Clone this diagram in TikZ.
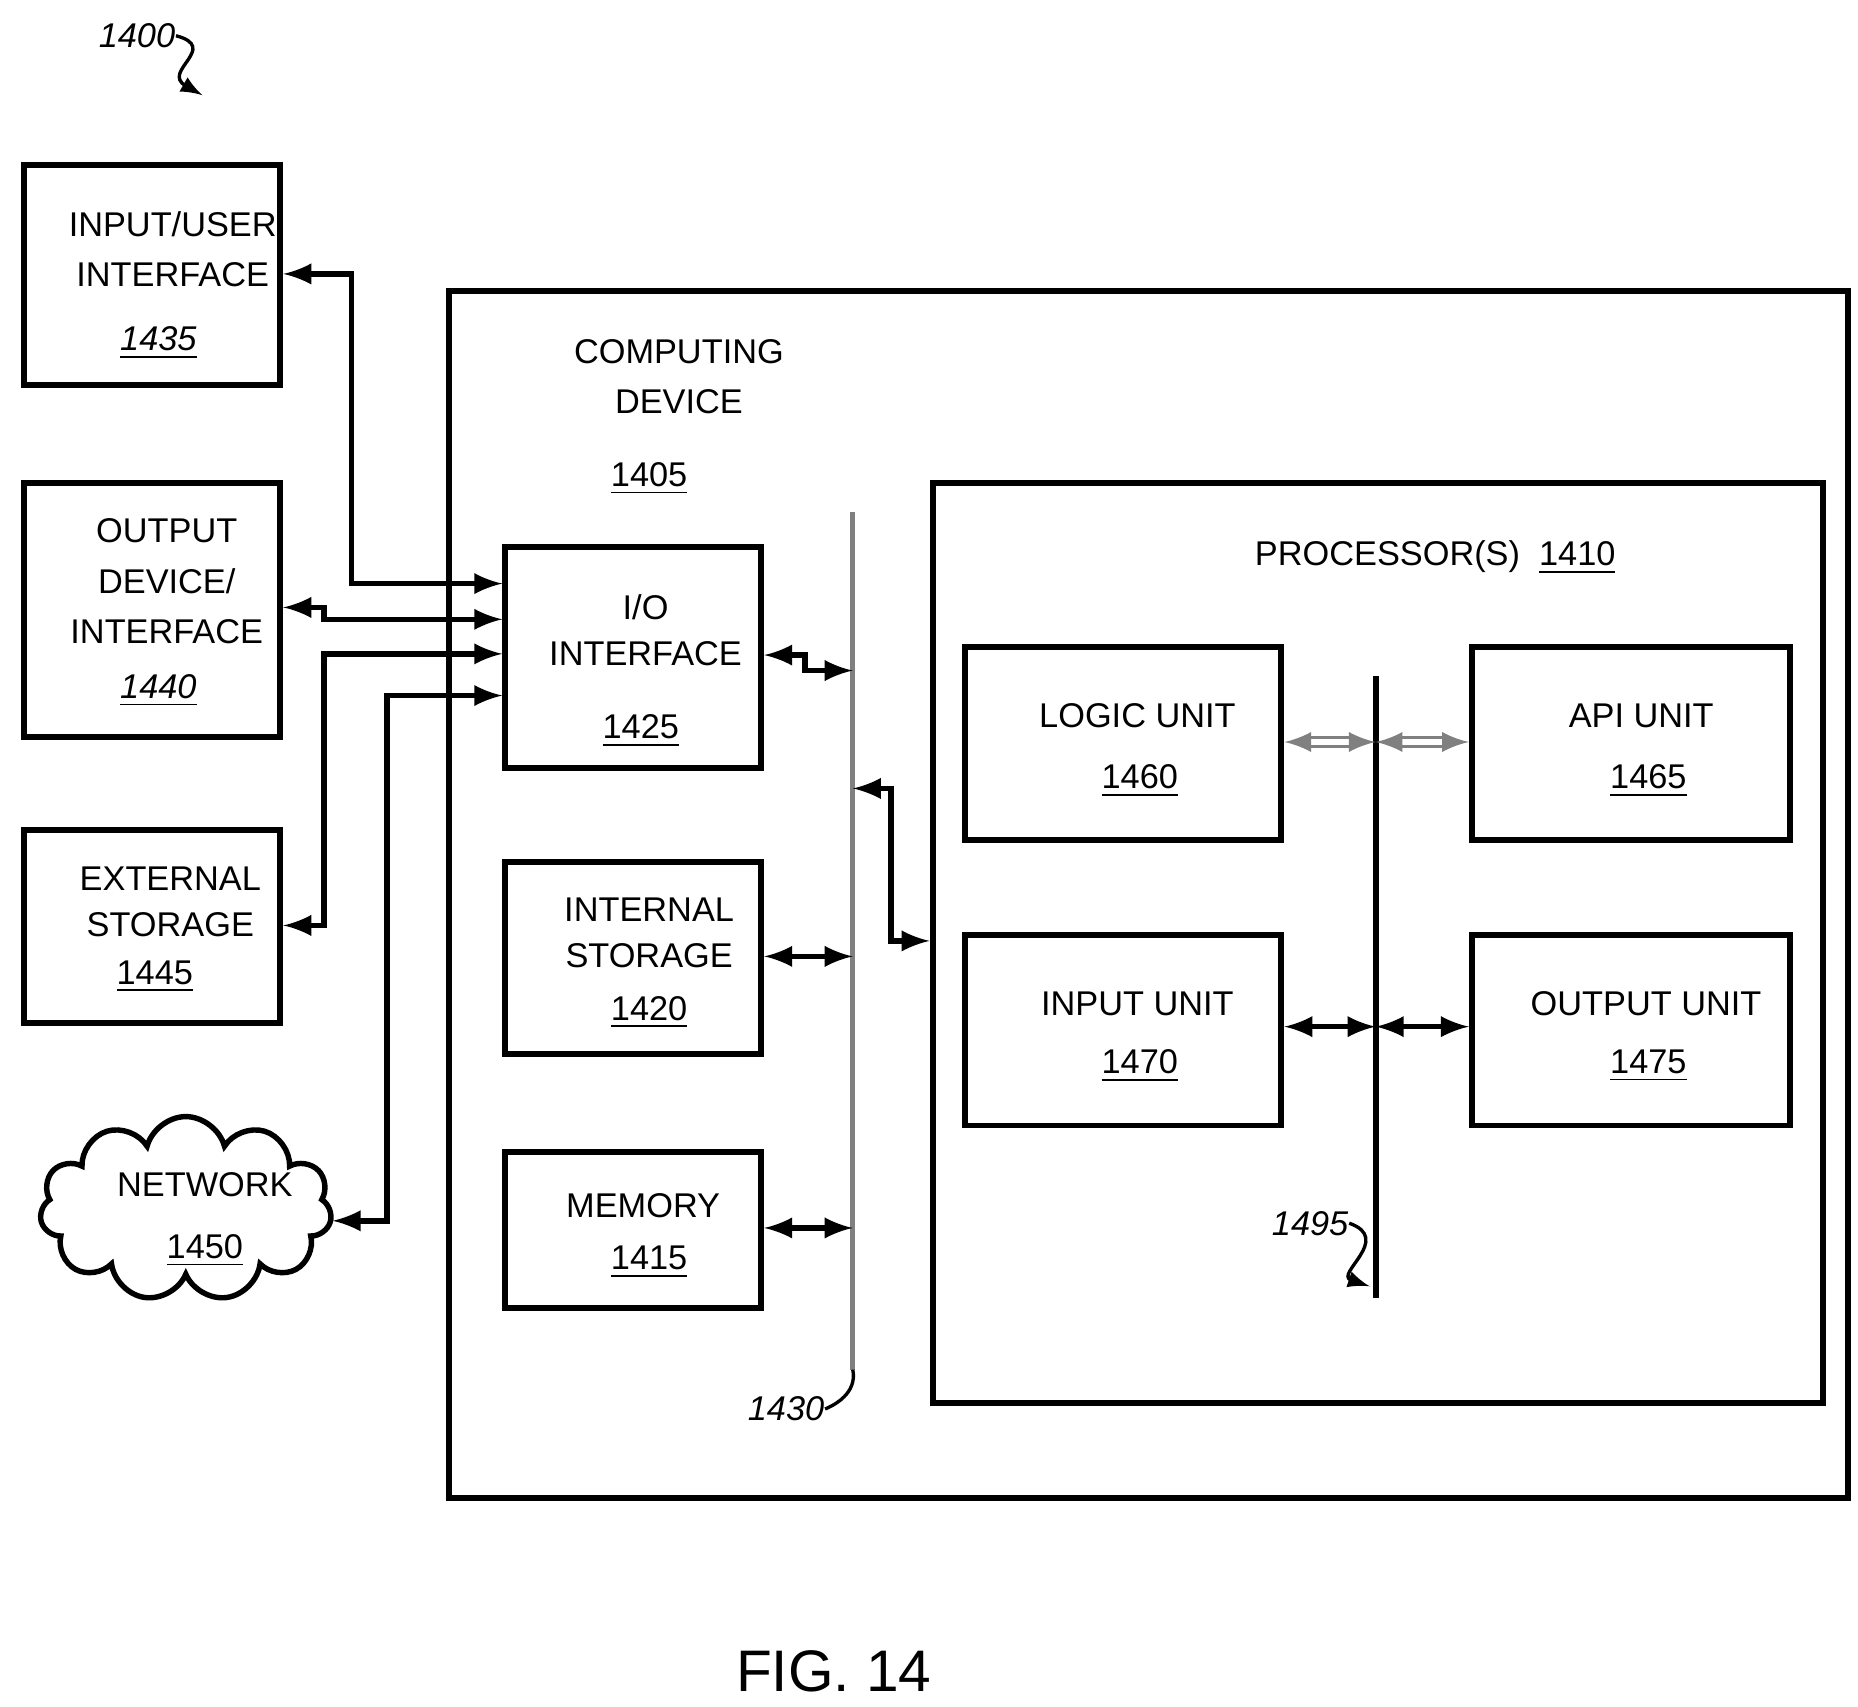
\documentclass[tikz,border=0pt]{standalone}
\usepackage{fontspec}
\setmainfont{Liberation Sans}
\usetikzlibrary{shapes, arrows, fit}
\usetikzlibrary{positioning}

\tikzset{
  box/.style={draw, line width=1.4pt, inner sep=0pt},
  txt/.style={font=\fontsize{8.2}{10}\selectfont, align=center, inner sep=0pt},
  conn/.style={line width=1.3pt, latex-latex},
  grayconn/.style={line width=0.8pt, double=white, draw=gray, double distance=1.2pt, latex-latex},
}

\newcommand{\mkbox}[5]{%
  \node[box, minimum width=#3*0.01cm, minimum height=#4*0.01cm, anchor=north west] (#5) at (#1*0.01,-#2*0.01) {};}

\begin{document}
\begin{tikzpicture}
\useasboundingbox (0,0) rectangle (15.6,-14.33);
% outer boxes
\mkbox{375}{242}{1175}{1014}{dev}
\mkbox{781}{403}{748}{773}{proc}
% left side boxes
\mkbox{18}{136}{215}{185}{inp}
\mkbox{18}{403}{215}{214}{outd}
\mkbox{18}{695}{215}{162}{ext}
\node[draw, cloud, cloud puffs=11, aspect=1.6, line width=1.3pt, minimum width=2.45cm, minimum height=1.55cm] (net) at (1.56,-10.15) {};
% device boxes
\mkbox{422}{457}{215}{186}{io}
\mkbox{422}{722}{215}{161}{ist}
\mkbox{422}{965}{215}{131}{mem}
\mkbox{808}{541}{266}{162}{logic}
\mkbox{1234}{541}{267}{162}{api}
\mkbox{808}{783}{266}{160}{inu}
\mkbox{1234}{783}{267}{160}{outu}

% texts
\node[txt] (t1400) at (1.15,-0.3) {\itshape 1400};
\node[txt] (tinp) at (1.45,-2.09) {INPUT/USER\\[2pt]INTERFACE};
\node[txt] (n1435) at (1.33,-2.88) {\itshape\underline{1435}};
\node[txt] (toutd) at (1.4,-4.88) {OUTPUT\\[2pt]DEVICE/\\[2pt]INTERFACE};
\node[txt] (n1440) at (1.33,-5.8) {\itshape\underline{1440}};
\node[txt] (text) at (1.43,-7.57) {EXTERNAL\\[1pt]STORAGE};
\node[txt] (n1445) at (1.3,-8.2) {\underline{1445}};
\node[txt] (tnet) at (1.72,-9.95) {NETWORK};
\node[txt] (n1450) at (1.72,-10.5) {\underline{1450}};
\node[txt] (tdev) at (5.7,-3.16) {COMPUTING\\[2pt]DEVICE};
\node[txt] (n1405) at (5.45,-4.02) {\underline{1405}};
\node[txt] (tio) at (5.42,-5.29) {I/O\\[1pt]INTERFACE};
\node[txt] (n1425) at (5.38,-6.14) {\underline{1425}};
\node[txt] (tist) at (5.45,-7.83) {INTERNAL\\[1pt]STORAGE};
\node[txt] (n1420) at (5.45,-8.5) {\underline{1420}};
\node[txt] (tmem) at (5.4,-10.12) {MEMORY};
\node[txt] (n1415) at (5.45,-10.6) {\underline{1415}};
\node[txt] (tproc) at (12.05,-4.68) {PROCESSOR(S)\ \ \underline{1410}};
\node[txt] (tlogic) at (9.55,-6.01) {LOGIC UNIT};
\node[txt] (n1460) at (9.57,-6.56) {\underline{1460}};
\node[txt] (tapi) at (13.78,-6.01) {API UNIT};
\node[txt] (n1465) at (13.84,-6.56) {\underline{1465}};
\node[txt] (tinu) at (9.55,-8.43) {INPUT UNIT};
\node[txt] (n1470) at (9.57,-8.95) {\underline{1470}};
\node[txt] (toutu) at (13.82,-8.43) {OUTPUT UNIT};
\node[txt] (n1475) at (13.84,-8.95) {\underline{1475}};
\node[txt] (n1430) at (6.6,-11.83) {\itshape 1430};
\node[txt] (n1495) at (11.0,-10.27) {\itshape 1495};
\node[txt, font=\fontsize{14}{16}\selectfont] (fig) at (7.0,-14.03) {FIG. 14};

% buses
\coordinate (b1top) at (7.16,-4.3);
\coordinate (b1bot) at (7.16,-11.5);
\draw[line width=1.2pt, draw=gray] (b1top) -- (b1bot);
\coordinate (b2top) at (11.55,-5.68);
\coordinate (b2bot) at (11.55,-10.9);
\draw[line width=1.5pt] (b2top) -- (b2bot);

% reference squiggles
\draw[line width=0.8pt, -latex] (t1400.east) .. controls (1.85,-0.4) and (1.35,-0.6) .. (1.7,-0.8);
\draw[line width=0.8pt] (b1bot) .. controls (7.2,-11.7) and (7.0,-11.8) .. (n1430.east);
\draw[line width=0.8pt, -latex] (n1495.east) .. controls (11.7,-10.4) and (11.2,-10.7) .. (11.5,-10.8);

% external connectors
\draw[conn] (inp.east |- 0,-2.3) -- (2.95,-2.3) -- (2.95,-4.9) -- (io.west |- 0,-4.9);
\draw[conn] (outd.east |- 0,-5.1) -- (2.72,-5.1) -- (2.72,-5.2) -- (io.west |- 0,-5.2);
\draw[conn] (ext.east |- 0,-7.77) -- (2.72,-7.77) -- (2.72,-5.49) -- (io.west |- 0,-5.49);
\draw[conn] (net.east |- 0,-10.25) -- (3.25,-10.25) -- (3.25,-5.84) -- (io.west |- 0,-5.84);

% internal connectors
\draw[conn] (io.east |- 0,-5.5) -- (6.76,-5.5) -- (6.76,-5.63) -- (7.16,-5.63);
\draw[conn] (ist.east |- 0,-8.03) -- (7.16,-8.03);
\draw[conn] (mem.east |- 0,-10.31) -- (7.16,-10.31);
\draw[conn] (7.16,-6.62) -- (7.48,-6.62) -- (7.48,-7.9) -- (proc.west |- 0,-7.9);
\draw[grayconn] (logic.east |- 0,-6.23) -- (11.55,-6.23);
\draw[grayconn] (11.55,-6.23) -- (api.west |- 0,-6.23);
\draw[conn] (inu.east |- 0,-8.62) -- (11.55,-8.62);
\draw[conn] (11.55,-8.62) -- (outu.west |- 0,-8.62);
\end{tikzpicture}
\end{document}
